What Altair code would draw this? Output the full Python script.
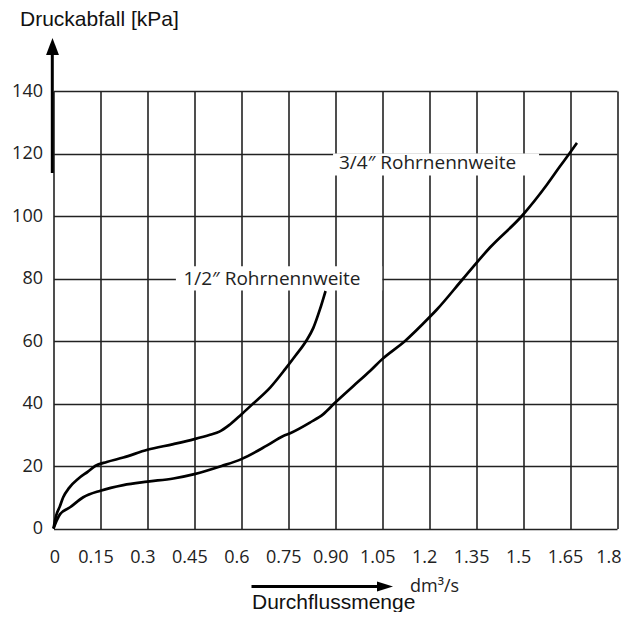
import altair as alt
import pandas as pd

# ---- data ----
half_x = [0, 0.008, 0.02, 0.031, 0.05, 0.08, 0.11, 0.133, 0.17, 0.223, 0.30, 0.383, 0.45, 0.50,
          0.53, 0.56, 0.60, 0.638, 0.692, 0.74, 0.772, 0.807, 0.83, 0.851, 0.869]
half_y = [0, 4, 7, 10, 13, 16, 18.2, 20, 21.3, 22.7, 25.2, 27, 28.6, 30,
          31, 33, 36.5, 40, 45.1, 51, 55.2, 60, 64.2, 70.1, 76]

quarter_x = [0, 0.01, 0.021, 0.053, 0.095, 0.15, 0.223, 0.30, 0.383, 0.45, 0.537, 0.60, 0.681,
             0.734, 0.756, 0.819, 0.862, 0.90, 0.958, 1.011, 1.05, 1.123, 1.20, 1.224, 1.309,
             1.395, 1.496, 1.576, 1.618, 1.648, 1.672]
quarter_y = [0, 2.5, 4.6, 6.8, 10, 12.1, 13.9, 15, 16, 17.4, 20, 22.2, 26.5,
             29.6, 30.5, 33.9, 36.6, 40.3, 45.6, 50.4, 54.2, 60, 67.5, 70, 80,
             90, 100, 110, 115.9, 120, 123.4]

series_names = ["1/2\u2033 Rohrnennweite", "3/4\u2033 Rohrnennweite"]

x_ticks = [0, 0.15, 0.3, 0.45, 0.6, 0.75, 0.9, 1.05, 1.2, 1.35, 1.5, 1.65, 1.8]
x_tick_labels = ["0", "0.15", "0.3", "0.45", "0.6", "0.75", "0.90", "1.05", "1.2",
                 "1.35", "1.5", "1.65", "1.8"]
y_grid = [0, 10, 20, 30, 40, 50, 60, 70, 80, 90, 100, 110, 120, 130, 140]

# label anchors (data coordinates) and their white boxes
label_x = [0.415, 0.912]
label_y = [80, 117]
box_x = [0.391, 0.893]
box_x2 = [1.050, 1.551]
box_y = [76.2, 113.0]
box_y2 = [83.9, 120.0]

curves = pd.concat([
    pd.DataFrame({"q": half_x, "p": half_y, "s": series_names[0]}),
    pd.DataFrame({"q": quarter_x, "p": quarter_y, "s": series_names[1]}),
])
labels = pd.DataFrame({"t": series_names, "x": label_x, "y": label_y,
                       "bx": box_x, "bx2": box_x2, "by": box_y, "by2": box_y2})
one = pd.DataFrame({"a": [0]})

label_expr = "[" + ",".join("'" + s + "'" for s in x_tick_labels) + "][round(datum.value/0.15)]"

xs = alt.Scale(domain=[0, 1.8], nice=False, zero=True)
ys = alt.Scale(domain=[0, 140], nice=False, zero=True)

x_axis = alt.Axis(values=x_ticks, labelExpr=label_expr, grid=True, gridColor="#222",
                  gridWidth=1.6, domain=False, ticks=False, labelPadding=20,
                  labelOffset={"condition": [{"test": "datum.value < 0.01", "value": 1},
                                             {"test": "datum.value > 1.79", "value": 4}],
                               "value": -5},
                  labelAlign={"condition": {"test": "datum.value > 1.79", "value": "right"},
                              "value": "center"},
                  labelFont="Open Sans", labelFontSize=18, labelColor="#222",
                  labelFlush=False, labelOverlap=False,
                  title="Durchflussmenge", titleFont="Liberation Sans", titleFontSize=21,
                  titleFontWeight="normal", titleColor="#111", titleAlign="left",
                  titleBaseline="alphabetic", titleX=198, titleY=80, titleAnchor="start")
y_axis = alt.Axis(values=y_grid, labelExpr="datum.value % 20 == 0 ? datum.label : ''",
                  grid=True, gridColor="#222", gridWidth=1.6, domain=False, ticks=False,
                  labelPadding=11, labelFont="Open Sans", labelFontSize=18, labelColor="#222",
                  labelOverlap=False, labelFlush=False,
                  title="Druckabfall [kPa]", titleFont="Liberation Sans", titleFontSize=21,
                  titleFontWeight="normal", titleColor="#111", titleAngle=0,
                  titleAlign="left", titleBaseline="alphabetic", titleX=-34, titleY=-66,
                  titleAnchor="start")

lines = alt.Chart(curves).mark_line(color="black", strokeWidth=2.7, strokeJoin="round",
                                    interpolate="monotone").encode(
    x=alt.X("q:Q", scale=xs, axis=x_axis),
    y=alt.Y("p:Q", scale=ys, axis=y_axis),
    detail="s:N",
    order="q:Q",
)

boxes = alt.Chart(labels).mark_rect(color="white").encode(
    x=alt.X("bx:Q", scale=xs), x2="bx2", y=alt.Y("by:Q", scale=ys), y2="by2"
)
texts = alt.Chart(labels).mark_text(align="left", baseline="middle", font="Open Sans",
                                    fontSize=19, color="#222").encode(
    x=alt.X("x:Q", scale=xs), y=alt.Y("y:Q", scale=ys), text="t:N"
)

# axis arrows (pixel positions relative to the plot area)
y_shaft = alt.Chart(one).mark_rule(color="black", strokeWidth=3).encode(
    x=alt.value(-1.2), y=alt.value(-37), y2=alt.value(82))
y_head = alt.Chart(one).mark_point(shape="M-0.76,1L0,-1L0.76,1Z", filled=True, color="black",
                                   opacity=1, size=289).encode(
    x=alt.value(-1), y=alt.value(-44.5))
x_shaft = alt.Chart(one).mark_rule(color="black", strokeWidth=3).encode(
    x=alt.value(198), x2=alt.value(325), y=alt.value(495.5))
x_head = alt.Chart(one).mark_point(shape="M-1,-0.625L1,0L-1,0.625Z", filled=True, color="black",
                                   opacity=1, size=256).encode(
    x=alt.value(331.5), y=alt.value(495.5))
unit = alt.Chart(one).mark_text(text="dm\u00b3/s", align="left", baseline="alphabetic",
                                font="Open Sans", fontSize=18, color="#222").encode(
    x=alt.value(356.5), y=alt.value(500.5))

chart = alt.layer(boxes, texts, lines, y_shaft, y_head, x_shaft, x_head, unit).properties(
    width=563.5, height=437.5,
    autosize=alt.AutoSizeParams(type="none"),
    padding={"left": 45.5, "top": 83, "right": 4, "bottom": 83},
    background="white",
).configure_view(strokeWidth=0)

chart.save("out.html", embed_options={"renderer": "svg", "actions": False})
